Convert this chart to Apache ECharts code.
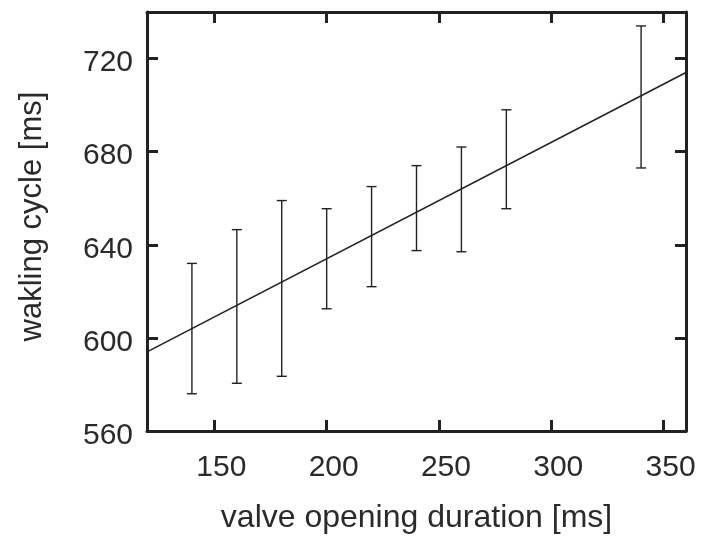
<!DOCTYPE html>
<html>
<head>
<meta charset="utf-8">
<script src="https://cdn.jsdelivr.net/npm/echarts@6/dist/echarts.min.js"></script>
<style>
  html, body { margin: 0; padding: 0; background: #fff; }
  #chart { width: 715px; height: 539px; }
</style>
</head>
<body>
<div id="chart"></div>
<script>
// error bars: valve opening duration vs walking cycle
const errX = [140, 160, 180, 200, 220, 240, 260, 280, 340];
const errLow = [576, 580.5, 583.5, 612.5, 622, 637.5, 637, 655.5, 673];
const errHigh = [632, 646.5, 659, 655.5, 665, 674, 682, 698, 734];

// fitted line end points
const fitX = [120, 360];
const fitY = [594, 714];

const xTicks = [150, 200, 250, 300, 350];
const yTicks = [560, 600, 640, 680, 720];

const ink = '#222';
const font = '"Liberation Sans", Arial, Helvetica, sans-serif';

const chart = echarts.init(document.getElementById('chart'));

function frameAxis(pos, min, max, ticks, showLabel) {
  const isX = pos === 'bottom' || pos === 'top';
  const ax = {
    type: 'value',
    position: pos,
    min: min,
    max: max,
    splitLine: { show: false },
    axisLine: { show: true, onZero: false, lineStyle: { color: ink, width: 3 } },
    axisTick: { show: true, inside: true, length: 11, customValues: ticks, lineStyle: { color: ink, width: 3 } },
    axisLabel: {
      show: showLabel,
      customValues: ticks,
      color: '#2a2a2a',
      fontFamily: font,
      fontSize: 30,
      margin: isX ? 22 : 14,
      formatter: v => '{a|' + v + '}',
      rich: {
        a: {
          color: '#2a2a2a',
          fontFamily: font,
          fontSize: 30,
          padding: isX ? [0, 0, 0, 14] : [9, 0, 0, 0]
        }
      }
    }
  };
  return ax;
}

const xBottom = frameAxis('bottom', 120, 360, xTicks, true);
xBottom.name = 'valve opening duration [ms]';
xBottom.nameLocation = 'middle';
xBottom.nameGap = 71;
xBottom.nameTextStyle = { color: '#2a2a2a', fontFamily: font, fontSize: 32 };

const yLeft = frameAxis('left', 560, 740, yTicks, true);
yLeft.name = 'wakling cycle [ms]';
yLeft.nameLocation = 'middle';
yLeft.nameGap = 99;
yLeft.nameTextStyle = { color: '#2a2a2a', fontFamily: font, fontSize: 31, padding: [0, 0, 0, 10] };

const option = {
  animation: false,
  backgroundColor: '#fff',
  grid: { left: 147, right: 29, top: 12, bottom: 106, containLabel: false },
  xAxis: [xBottom, frameAxis('top', 120, 360, xTicks, false)],
  yAxis: [yLeft, frameAxis('right', 560, 740, yTicks, false)],
  series: [
    {
      type: 'line',
      xAxisIndex: 0,
      yAxisIndex: 0,
      data: fitX.map((x, i) => [x, fitY[i]]),
      symbol: 'none',
      lineStyle: { color: ink, width: 1.6 }
    },
    {
      type: 'custom',
      xAxisIndex: 0,
      yAxisIndex: 0,
      data: errX.map((x, i) => [x, errLow[i], errHigh[i]]),
      renderItem: function (params, api) {
        const top = api.coord([api.value(0), api.value(2)]);
        const bot = api.coord([api.value(0), api.value(1)]);
        const w = 5;
        const st = { stroke: ink, lineWidth: 1.4 };
        return {
          type: 'group',
          children: [
            { type: 'line', shape: { x1: top[0], y1: top[1], x2: bot[0], y2: bot[1] }, style: st },
            { type: 'line', shape: { x1: top[0] - w, y1: top[1], x2: top[0] + w, y2: top[1] }, style: st },
            { type: 'line', shape: { x1: bot[0] - w, y1: bot[1], x2: bot[0] + w, y2: bot[1] }, style: st }
          ]
        };
      }
    }
  ]
};

chart.setOption(option);
</script>
</body>
</html>
